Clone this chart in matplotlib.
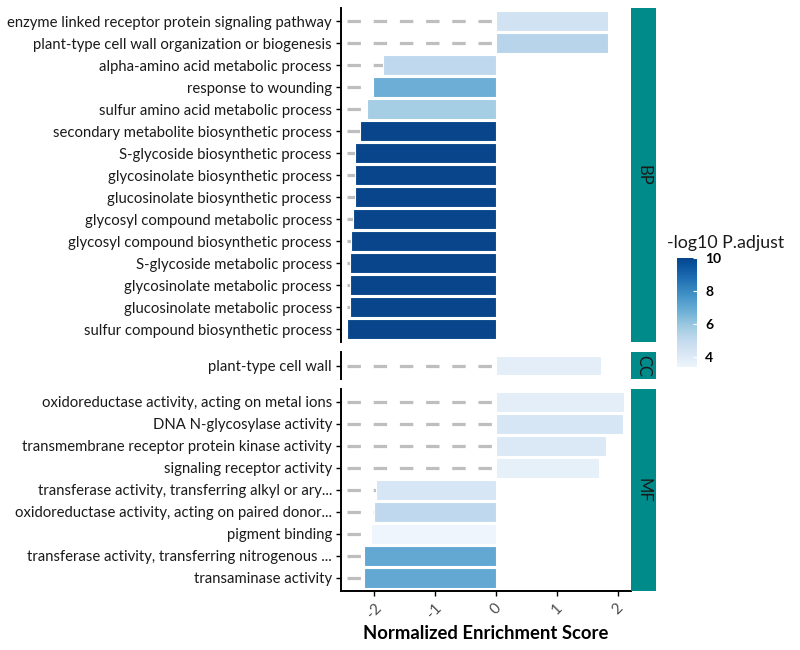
import numpy as np
import matplotlib
matplotlib.use("Agg")
from matplotlib import pyplot as plt
from matplotlib import cm
from matplotlib.colors import LinearSegmentedColormap, Normalize

plt.rcParams["font.family"] = ["Lato", "DejaVu Sans"]

# data (top to bottom inside each facet)
bp_terms = [
    "enzyme linked receptor protein signaling pathway",
    "plant-type cell wall organization or biogenesis",
    "alpha-amino acid metabolic process",
    "response to wounding",
    "sulfur amino acid metabolic process",
    "secondary metabolite biosynthetic process",
    "S-glycoside biosynthetic process",
    "glycosinolate biosynthetic process",
    "glucosinolate biosynthetic process",
    "glycosyl compound metabolic process",
    "glycosyl compound biosynthetic process",
    "S-glycoside metabolic process",
    "glycosinolate metabolic process",
    "glucosinolate metabolic process",
    "sulfur compound biosynthetic process",
]
bp_nes = [1.84, 1.84, -1.85, -2.01, -2.12, -2.23, -2.31, -2.31, -2.31,
          -2.34, -2.37, -2.39, -2.39, -2.39, -2.44]
bp_logp = [4.5, 5.3, 5.1, 6.8, 5.7, 10, 10, 10, 10, 10, 10, 10, 10, 10, 10]

cc_terms = ["plant-type cell wall"]
cc_nes = [1.73]
cc_logp = [3.8]

mf_terms = [
    "oxidoreductase activity, acting on metal ions",
    "DNA N-glycosylase activity",
    "transmembrane receptor protein kinase activity",
    "signaling receptor activity",
    "transferase activity, transferring alkyl or ary...",
    "oxidoreductase activity, acting on paired donor...",
    "pigment binding",
    "transferase activity, transferring nitrogenous ...",
    "transaminase activity",
]
mf_nes = [2.11, 2.09, 1.81, 1.69, -1.97, -2.00, -2.04, -2.16, -2.16]
mf_logp = [3.8, 4.3, 4.1, 3.7, 4.3, 5.1, 3.4, 7.0, 7.0]

facets = [("BP", bp_terms, bp_nes, bp_logp),
          ("CC", cc_terms, cc_nes, cc_logp),
          ("MF", mf_terms, mf_nes, mf_logp)]

W, H = 800, 650
fig = plt.figure(figsize=(8, 6.5), dpi=100, facecolor="white")

cmap = LinearSegmentedColormap.from_list(
    "blues_cut", plt.get_cmap("Blues")(np.linspace(0.05, 0.92, 256)))
norm = Normalize(vmin=3.4, vmax=10)

all_nes = bp_nes + cc_nes + mf_nes
seg_start = min(all_nes)

left_px, right_px = 341, 631
row_px = 22
gap_px = 10
top_px = 8
xlim = (-2.54, 2.22)

cur = top_px
for i, (name, terms, nes, logp) in enumerate(facets):
    n = len(terms)
    h_px = (n + 0.2) * row_px
    ax = fig.add_axes([left_px / W, 1 - (cur + h_px) / H,
                       (right_px - left_px) / W, h_px / H])
    y = np.arange(n)[::-1]
    ax.hlines(y, seg_start, 0, colors="#BEBEBE", linewidth=2.3,
              linestyles=(0, (4.2, 4.0)), zorder=1)
    ax.barh(y, nes, height=0.9, color=cmap(norm(np.array(logp))),
            edgecolor="white", linewidth=0.8, zorder=2)
    ax.set_xlim(*xlim)
    ax.set_ylim(-0.6, n - 0.4)
    ax.set_yticks(y)
    ax.set_yticklabels(terms, fontsize=10.7, color="#1A1A1A")
    ax.tick_params(axis="y", length=3.5, width=1, color="black", pad=3)
    for s in ["top", "right"]:
        ax.spines[s].set_visible(False)
    ax.spines["left"].set_linewidth(1.4)
    if i < len(facets) - 1:
        ax.spines["bottom"].set_visible(False)
        ax.set_xticks([])
    else:
        ax.spines["bottom"].set_linewidth(1.4)
        ax.set_xticks([-2, -1, 0, 1, 2])
        ax.set_xticklabels(["-2", "-1", "0", "1", "2"], rotation=45,
                           fontsize=11, color="#4D4D4D")
        ax.tick_params(axis="x", length=3.5, width=1, color="black")
        ax.set_xlabel("Normalized Enrichment Score", fontsize=13.3,
                      fontweight="bold", labelpad=3)

    sax = fig.add_axes([right_px / W, 1 - (cur + h_px) / H,
                        25 / W, h_px / H])
    sax.set_facecolor("#008B8B")
    sax.set_xticks([])
    sax.set_yticks([])
    for s in sax.spines.values():
        s.set_visible(False)
    sax.text(0.5, 0.5, name, rotation=-90, ha="center", va="center",
             fontsize=12, color="#1A1A1A", transform=sax.transAxes)

    cur += h_px + gap_px

# colour legend
cax = fig.add_axes([677 / W, 1 - 367 / H, 20 / W, 109 / H])
sm = cm.ScalarMappable(norm=norm, cmap=cmap)
cb = fig.colorbar(sm, cax=cax, ticks=[4, 6, 8, 10])
cb.outline.set_visible(False)
cax.tick_params(length=3, color="white", direction="in", pad=6)
for t in cax.get_yticklabels():
    t.set_fontweight("bold")
    t.set_fontsize(10)
fig.text(667 / W, 1 - 243 / H, "-log10 P.adjust", fontsize=12.8,
         ha="left", va="center", color="#1A1A1A")

fig.savefig("out.png", dpi=100, facecolor="white")
